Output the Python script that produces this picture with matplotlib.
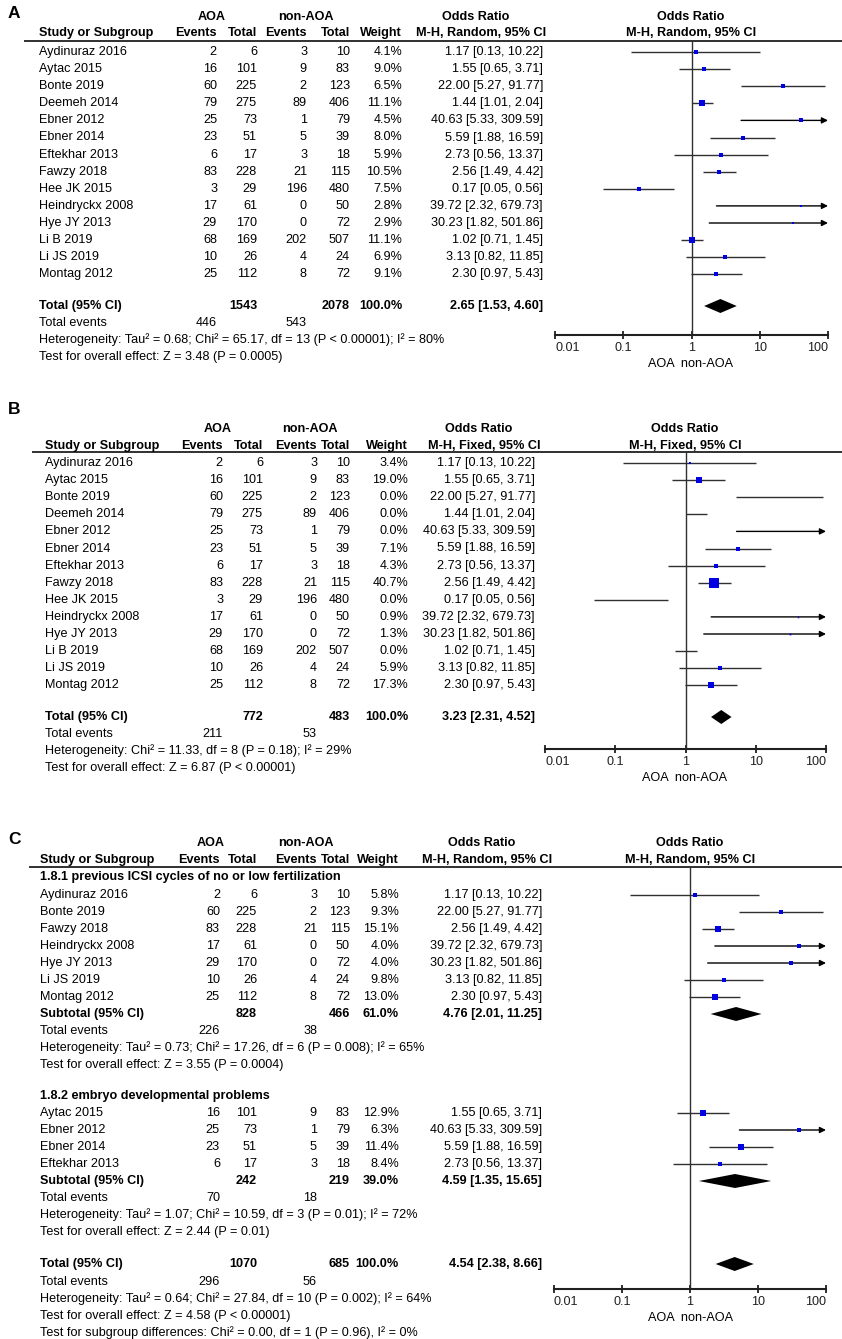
import numpy as np
import matplotlib
matplotlib.use('Agg')
import matplotlib.pyplot as plt
from matplotlib.ticker import NullLocator

plt.rcParams['font.family'] = ['Liberation Sans', 'DejaVu Sans']

W, H = 842, 1339
FS = 9.1
SQ_BLUE = '#0000e0'
LINE = '#303030'

# studies shared by panels A and B
studies = ['Aydinuraz 2016', 'Aytac 2015', 'Bonte 2019', 'Deemeh 2014', 'Ebner 2012', 'Ebner 2014',
           'Eftekhar 2013', 'Fawzy 2018', 'Hee JK 2015', 'Heindryckx 2008', 'Hye JY 2013', 'Li B 2019',
           'Li JS 2019', 'Montag 2012']
aoa_events = [2, 16, 60, 79, 25, 23, 6, 83, 3, 17, 29, 68, 10, 25]
aoa_total = [6, 101, 225, 275, 73, 51, 17, 228, 29, 61, 170, 169, 26, 112]
non_events = [3, 9, 2, 89, 1, 5, 3, 21, 196, 0, 0, 202, 4, 8]
non_total = [10, 83, 123, 406, 79, 39, 18, 115, 480, 50, 72, 507, 24, 72]
odds = [1.17, 1.55, 22.00, 1.44, 40.63, 5.59, 2.73, 2.56, 0.17, 39.72, 30.23, 1.02, 3.13, 2.30]
ci_low = [0.13, 0.65, 5.27, 1.01, 5.33, 1.88, 0.56, 1.49, 0.05, 2.32, 1.82, 0.71, 0.82, 0.97]
ci_high = [10.22, 3.71, 91.77, 2.04, 309.59, 16.59, 13.37, 4.42, 0.56, 679.73, 501.86, 1.45, 11.85, 5.43]
weight_a = [4.1, 9.0, 6.5, 11.1, 4.5, 8.0, 5.9, 10.5, 7.5, 2.8, 2.9, 11.1, 6.9, 9.1]
weight_b = [3.4, 19.0, 0.0, 0.0, 0.0, 7.1, 4.3, 40.7, 0.0, 0.9, 1.3, 0.0, 5.9, 17.3]

# panel C subgroups
sub1_name = '1.8.1 previous ICSI cycles of no or low fertilization'
sub1_studies = ['Aydinuraz 2016', 'Bonte 2019', 'Fawzy 2018', 'Heindryckx 2008', 'Hye JY 2013',
                'Li JS 2019', 'Montag 2012']
sub1_weight = [5.8, 9.3, 15.1, 4.0, 4.0, 9.8, 13.0]
sub2_name = '1.8.2 embryo developmental problems'
sub2_studies = ['Aytac 2015', 'Ebner 2012', 'Ebner 2014', 'Eftekhar 2013']
sub2_weight = [12.9, 6.3, 11.4, 8.4]

# pooled results: (aoa total, non total, weight, OR, lo, hi, aoa events, non events)
pooled_a = (1543, 2078, 100.0, 2.65, 1.53, 4.60, 446, 543)
pooled_b = (772, 483, 100.0, 3.23, 2.31, 4.52, 211, 53)
pooled_c1 = (828, 466, 61.0, 4.76, 2.01, 11.25, 226, 38)
pooled_c2 = (242, 219, 39.0, 4.59, 1.35, 15.65, 70, 18)
pooled_c = (1070, 685, 100.0, 4.54, 2.38, 8.66, 296, 56)

het_a = ['Heterogeneity: Tau² = 0.68; Chi² = 65.17, df = 13 (P < 0.00001); I² = 80%',
         'Test for overall effect: Z = 3.48 (P = 0.0005)']
het_b = ['Heterogeneity: Chi² = 11.33, df = 8 (P = 0.18); I² = 29%',
         'Test for overall effect: Z = 6.87 (P < 0.00001)']
het_c1 = ['Heterogeneity: Tau² = 0.73; Chi² = 17.26, df = 6 (P = 0.008); I² = 65%',
          'Test for overall effect: Z = 3.55 (P = 0.0004)']
het_c2 = ['Heterogeneity: Tau² = 1.07; Chi² = 10.59, df = 3 (P = 0.01); I² = 72%',
          'Test for overall effect: Z = 2.44 (P = 0.01)']
het_c = ['Heterogeneity: Tau² = 0.64; Chi² = 27.84, df = 10 (P = 0.002); I² = 64%',
         'Test for overall effect: Z = 4.58 (P < 0.00001)',
         'Test for subgroup differences: Chi² = 0.00, df = 1 (P = 0.96), I² = 0%']

fig = plt.figure(figsize=(W / 100, H / 100), dpi=100)
bg = fig.add_axes([0, 0, 1, 1])
bg.set_xlim(0, W)
bg.set_ylim(H, 0)
bg.axis('off')


def txt(x, y, s, ha='left', bold=False, size=FS):
    bg.text(x, y, s, ha=ha, va='center', fontsize=size,
            fontweight='bold' if bold else 'normal', color='black')


def fmt_or(o, lo, hi):
    return f'{o:.2f} [{lo:.2f}, {hi:.2f}]'


def header(c, letter, ys, method):
    y_letter, y_top, y_head, y_line = ys
    txt(8, y_letter, letter, bold=True, size=12.5)
    txt(c['aoa'], y_top, 'AOA', ha='center', bold=True)
    txt(c['non'], y_top, 'non-AOA', ha='center', bold=True)
    txt(c['orc'], y_top, 'Odds Ratio', ha='center', bold=True)
    txt(c['one'], y_top, 'Odds Ratio', ha='center', bold=True)
    txt(c['name'], y_head, 'Study or Subgroup', bold=True)
    txt(c['ev1'], y_head, 'Events', ha='right', bold=True)
    txt(c['n1'], y_head, 'Total', ha='right', bold=True)
    txt(c['ev2'], y_head, 'Events', ha='right', bold=True)
    txt(c['n2'], y_head, 'Total', ha='right', bold=True)
    txt(c['w'], y_head, 'Weight', ha='right', bold=True)
    txt(c['orc'] + 5, y_head, method, ha='center', bold=True)
    txt(c['one'], y_head, method, ha='center', bold=True)
    bg.plot([c['line0'], W], [y_line + 1, y_line + 1], color=LINE, lw=1.4)


def forest_axes(c, y_line, y_axis):
    ax = fig.add_axes([c['x001'] / W, 1 - y_axis / H, (c['x100'] - c['x001']) / W, (y_axis - y_line) / H])
    ax.set_xscale('log')
    ax.set_xlim(0.01, 100)
    ax.set_ylim(y_axis, y_line)
    ax.patch.set_alpha(0)
    for s in ['top', 'left', 'right']:
        ax.spines[s].set_visible(False)
    ax.spines['bottom'].set_linewidth(1.5)
    ax.spines['bottom'].set_color('#202020')
    ax.set_yticks([])
    ax.set_xticks([0.01, 0.1, 1, 10, 100])
    ax.set_xticklabels(['0.01', '0.1', '1', '10', '100'])
    ax.xaxis.set_minor_locator(NullLocator())
    ax.tick_params(axis='x', direction='inout', length=6, width=1.3, pad=2, labelsize=FS, colors='#202020')
    labels = ax.get_xticklabels()
    labels[0].set_ha('left')
    labels[-1].set_ha('right')
    ax.axvline(1, color=LINE, lw=1)
    txt(c['one'], y_axis + 29, 'AOA  non-AOA', ha='center')
    return ax


def study(ax, c, y, k, w):
    txt(c['name'], y, studies[k])
    txt(c['ev1'], y, str(aoa_events[k]), ha='right')
    txt(c['n1'], y, str(aoa_total[k]), ha='right')
    txt(c['ev2'], y, str(non_events[k]), ha='right')
    txt(c['n2'], y, str(non_total[k]), ha='right')
    txt(c['w'], y, f'{w:.1f}%', ha='right')
    txt(c['orr'], y, fmt_or(odds[k], ci_low[k], ci_high[k]), ha='right')
    lo, hi = max(ci_low[k], 0.01), min(ci_high[k], 100)
    if ci_high[k] > 100:
        ax.annotate('', xy=(hi, y), xytext=(lo, y), annotation_clip=False,
                    arrowprops=dict(arrowstyle='-|>', color='black', lw=1, mutation_scale=9,
                                    shrinkA=0, shrinkB=0))
    else:
        ax.plot([lo, hi], [y, y], color=LINE, lw=1, solid_capstyle='butt')
    if w > 0:
        ax.plot([odds[k]], [y], marker='s', ms=1.1 * np.sqrt(w), color=SQ_BLUE, mec=SQ_BLUE,
                mew=0, zorder=5, clip_on=False)


def pooled(ax, c, y, p, label):
    n1, n2, w, o, lo, hi, e1, e2 = p
    txt(c['name'], y, label, bold=True)
    txt(c['n1'], y, str(n1), ha='right', bold=True)
    txt(c['n2'], y, str(n2), ha='right', bold=True)
    txt(c['w'], y, f'{w:.1f}%', ha='right', bold=True)
    txt(c['orr'], y, fmt_or(o, lo, hi), ha='right', bold=True)
    ax.fill([lo, o, hi, o], [y, y - 7, y, y + 7], color='black', lw=0, zorder=5)


def footer(c, ys, p, lines):
    txt(c['name'], ys[0], 'Total events')
    txt(c['ev1'], ys[0], str(p[6]), ha='right')
    txt(c['ev2'], ys[0], str(p[7]), ha='right')
    for y, s in zip(ys[1:], lines):
        txt(c['name'], y, s)


# ---------------- panel A ----------------
ca = dict(name=39, line0=25, ev1=217, n1=257, ev2=307, n2=350, w=402, orr=543,
          aoa=212, non=306, orc=476, one=691, x001=555, x100=828)
header(ca, 'A', (13, 17, 33, 40), 'M-H, Random, 95% CI')
ax_a = forest_axes(ca, 40, 335)
for k in range(len(studies)):
    study(ax_a, ca, 52 + 17.1 * k, k, weight_a[k])
pooled(ax_a, ca, 306, pooled_a, 'Total (95% CI)')
footer(ca, [323, 340, 357], pooled_a, het_a)

# ---------------- panel B ----------------
cb = dict(name=45, line0=33, ev1=223, n1=263, ev2=317, n2=350, w=408, orr=535,
          aoa=218, non=310, orc=479, one=685, x001=545, x100=826)
header(cb, 'B', (410, 429, 446, 451), 'M-H, Fixed, 95% CI')
ax_b = forest_axes(cb, 451, 749)
for k in range(len(studies)):
    study(ax_b, cb, 463 + 17.1 * k, k, weight_b[k])
pooled(ax_b, cb, 717, pooled_b, 'Total (95% CI)')
footer(cb, [734, 751, 768], pooled_b, het_b)

# ---------------- panel C ----------------
cc = dict(name=40, line0=30, ev1=220, n1=257, ev2=317, n2=350, w=399, orr=542,
          aoa=211, non=306, orc=482, one=690, x001=554, x100=826)
header(cc, 'C', (840, 843, 860, 866), 'M-H, Random, 95% CI')
ax_c = forest_axes(cc, 866, 1289)

txt(cc['name'], 877, sub1_name, bold=True)
for j, (s, w) in enumerate(zip(sub1_studies, sub1_weight)):
    study(ax_c, cc, 895 + 17 * j, studies.index(s), w)
pooled(ax_c, cc, 1014, pooled_c1, 'Subtotal (95% CI)')
footer(cc, [1031, 1048, 1065], pooled_c1, het_c1)

txt(cc['name'], 1096, sub2_name, bold=True)
for j, (s, w) in enumerate(zip(sub2_studies, sub2_weight)):
    study(ax_c, cc, 1113 + 17 * j, studies.index(s), w)
pooled(ax_c, cc, 1181, pooled_c2, 'Subtotal (95% CI)')
footer(cc, [1198, 1215, 1232], pooled_c2, het_c2)

pooled(ax_c, cc, 1264, pooled_c, 'Total (95% CI)')
footer(cc, [1282, 1299, 1316, 1333], pooled_c, het_c)

fig.savefig('out.png', dpi=100)
